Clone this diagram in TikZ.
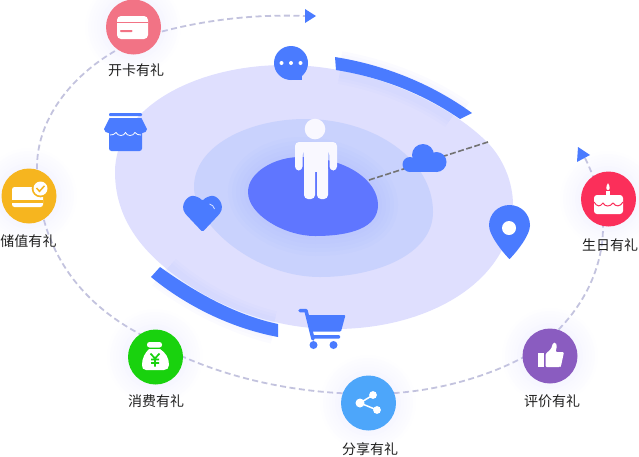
\documentclass[tikz,border=0pt]{standalone}
\usepackage{fontspec}
\setmainfont{Noto Sans CJK SC}
\definecolor{iconblue}{HTML}{4A7BFF}
\definecolor{outerblob}{HTML}{DFDFFE}
\definecolor{midblob}{HTML}{C9D2FD}
\definecolor{innerblob}{HTML}{5F76FF}
\definecolor{orbit}{HTML}{C3C3DE}
\definecolor{cpink}{HTML}{F27385}
\definecolor{cyellow}{HTML}{F6B51F}
\definecolor{cred}{HTML}{FB2F5A}
\definecolor{cpurple}{HTML}{8A5CC0}
\definecolor{csky}{HTML}{4DA6FA}
\definecolor{cgreen}{HTML}{19D20E}
\definecolor{halo}{HTML}{DCDCFF}
\definecolor{person}{HTML}{F9F8FF}
\tikzset{
  x=1pt,y=-1pt,
  badge/.style={circle,minimum size=55pt,inner sep=0pt,fill=#1},
  captext/.style={inner sep=0pt,text=black!88,font=\fontsize{14pt}{16pt}\selectfont},
  orbitline/.style={draw=orbit,line width=1.8pt,dash pattern=on 6pt off 3.5pt},
}
\newcommand{\haloat}[2]{%
  \foreach \rr in {30,33,36,39,42,45,48}{\fill[halo,opacity=.04] (#1,#2) circle[radius=\rr];}}
\newcommand{\outerpath}{(115,172) .. controls (115,108) and (195,65) .. (285,65) .. controls (370,65) and (450,105) .. (487,142) .. controls (503,158) and (513,182) .. (513,205) .. controls (513,280) and (430,329) .. (335,329) .. controls (285,329) and (240,315) .. (200,292) .. controls (150,262) and (115,225) .. (115,172) -- cycle}
\newcommand{\midpath}{(194,187) .. controls (194,145) and (250,119) .. (305,119) .. controls (375,119) and (433,160) .. (433,212) .. controls (433,255) and (375,277) .. (320,277) .. controls (255,277) and (194,225) .. (194,187) -- cycle}
\newcommand{\innerpath}{(248,192) .. controls (248,172) and (275,157) .. (300,157) .. controls (345,157) and (378,180) .. (378,205) .. controls (378,228) and (350,236) .. (315,236) .. controls (285,236) and (248,215) .. (248,192) -- cycle}
\begin{document}
\begin{tikzpicture}
\useasboundingbox (0,0) rectangle (639,456);
% arc glows
\foreach \w in {26,20,14}{
 \draw[halo,opacity=.1,line width=\w pt] (340,64) .. controls (385,72) and (430,90) .. (462,113);
 \draw[halo,opacity=.1,line width=\w pt] (160,275) .. controls (190,298) and (230,320) .. (274,331);
}
% blobs
\fill[outerblob] \outerpath;
\foreach \w in {24,18,12}{
 \draw[iconblue,opacity=.02,line width=\w pt] (340,72) .. controls (385,80) and (425,98) .. (452,117);
 \draw[iconblue,opacity=.02,line width=\w pt] (168,268) .. controls (195,292) and (235,314) .. (274,323);
}
\fill[midblob] \midpath;
\foreach \w in {40,32,24,16,8}{
 \draw[innerblob,opacity=.02,line width=\w pt] \innerpath;
}
\fill[innerblob] \innerpath;
% dashed spoke
\coordinate (spokeA) at (369,180);
\coordinate (spokeB) at (488,142);
\draw[black!55,line width=1.6pt,dash pattern=on 6pt off 2.5pt] (spokeA) -- (spokeB);
% thick arcs
\fill[iconblue] (335,57) .. controls (385,65) and (432,84) .. (472,113) -- (460,119) .. controls (425,95) and (385,78) .. (336,70) -- cycle;
\fill[iconblue] (151,277) .. controls (185,305) and (230,328) .. (278,337) -- (278,324) .. controls (235,315) and (195,292) .. (160,267) -- cycle;
% orbit
\coordinate (orbitEnd) at (305,16);
\coordinate (orbitStart) at (585,158);
\draw[orbitline] (orbitStart) .. controls (596,180) and (603,205) .. (603,227) .. controls (603,280) and (570,330) .. (522,358) .. controls (480,380) and (425,394) .. (370,394) .. controls (290,394) and (205,375) .. (138,333) .. controls (68,295) and (37,235) .. (37,167) .. controls (37,105) and (95,50) .. (160,32) .. controls (205,20) and (255,14) .. (orbitEnd);
\fill[iconblue] (305,9) -- (316,16) -- (305,23) -- cycle;
\fill[iconblue] (578,147) -- (590,155) -- (577,162) -- cycle;
% halos
\haloat{133}{27}\haloat{29}{196}\haloat{608}{199}\haloat{550}{356}\haloat{368}{403}\haloat{155}{357}
% badges
\node[badge=cpink] (card) at (133.5,27) {};
\node[badge=cyellow] (store) at (29,196) {};
\node[badge=cred] (birth) at (608.5,199) {};
\node[badge=cpurple] (rate) at (550,356) {};
\node[badge=csky] (share) at (368.5,403) {};
\node[badge=cgreen] (spend) at (155.5,357) {};
% captions
\node[captext] (capcard) at (136,70) {开卡有礼};
\node[captext] (capstore) at (28.5,241.5) {储值有礼};
\node[captext] (capbirth) at (610,245) {生日有礼};
\node[captext] (caprate) at (552,401.5) {评价有礼};
\node[captext] (capshare) at (370,449) {分享有礼};
\node[captext] (capspend) at (156,401.5) {消费有礼};
% card icon
\fill[white,rounded corners=4pt] (117,16) rectangle (148,39);
\fill[cpink] (117,21.5) rectangle (148,23);
\fill[cpink,rounded corners=.8pt] (120,30) rectangle (132.5,32);
% stored value icon
\fill[white,rounded corners=2.5pt] (12,187) rectangle (43,207);
\fill[cyellow] (12,200) rectangle (43,203);
\fill[cyellow] (40.5,188.5) circle[radius=8.8];
\fill[white] (40.5,188.5) circle[radius=7];
\draw[cyellow,line width=1.5pt] (36.5,188) -- (39.5,191.3) -- (44.5,185.8);
% cake icon
\fill[white] (608,183) .. controls (610.5,187) and (610,190) .. (608,190) .. controls (606,190) and (605.5,187) .. (608,183) -- cycle;
\fill[white] (606,191) rectangle (610,196);
\fill[white,rounded corners=3pt] (594,195) rectangle (623,214);
\draw[cred,line width=1pt] (594,202) .. controls (597,207) and (600,207) .. (603,203) .. controls (605,207) and (610,207) .. (613,203) .. controls (616,207) and (620,207) .. (623,202);
% thumb icon
\fill[white] (538,353) rectangle (543.5,367);
\fill[white,rounded corners=1.2pt] (545.5,354) -- (551,349) -- (553,343) .. controls (556,342) and (557,345) .. (556.5,348) -- (555.5,352) -- (564,352) -- (561,366) -- (560,367) -- (545.5,367) -- cycle;
% share icon
\draw[white,line width=1.5pt] (373,395) -- (360,403) -- (377,410);
\fill[white] (373,395) circle[radius=3.9] (360,403) circle[radius=4.5] (377,410) circle[radius=3.9];
% money bag icon
\fill[white,rounded corners=2.5pt] (147,342) rectangle (162,347.5);
\fill[white] (149,349) -- (160,349) .. controls (166,353) and (169,358) .. (169,365) .. controls (169,368) and (167,370) .. (164,370) -- (146,370) .. controls (143,370) and (142,368) .. (142,365) .. controls (142,358) and (145,353) .. (149,349) -- cycle;
\draw[cgreen,line width=1.7pt] (150.5,353.5) -- (155,358.5) -- (159.5,353.5) (155,358.5) -- (155,366.5) (151,359.5) -- (159,359.5) (151,362.9) -- (159,362.9);
% chat icon
\fill[iconblue] (291,63) circle[radius=17];
\fill[iconblue] (291,74) rectangle (302,80);
\fill[white] (281.5,63) circle[radius=2] (291,63) circle[radius=2] (300.5,63) circle[radius=2];
% store icon
\fill[iconblue,rounded corners=1pt] (109,113) rectangle (142,116);
\fill[iconblue,rounded corners=2.5pt] (109,130) rectangle (142,151);
\fill[iconblue] (109.5,118) -- (141.5,118) -- (147,129) .. controls (147,134) and (138,134.5) .. (135,130) .. controls (134,135) and (127,135) .. (125.5,130) .. controls (124,135) and (117,135) .. (116,130) .. controls (113,134.5) and (104,134) .. (104,129) -- cycle;
\draw[white,line width=.8pt] (110,135) .. controls (112,135.5) and (115,134) .. (116,132.5) .. controls (118,136.5) and (124,136.5) .. (125.5,132.5) .. controls (127,136.5) and (133,136.5) .. (135,132.5) .. controls (136,134) and (139,135.5) .. (141,135);
% heart icon
\fill[iconblue,rounded corners=1.5pt] (202.5,232) -- (186,214.5) .. controls (179,205) and (188,194) .. (196,196.5) .. controls (199,197.5) and (201,199) .. (202.5,201) .. controls (204,199) and (206,197.5) .. (209,196.5) .. controls (217,194) and (226,205) .. (219,214.5) -- cycle;
\draw[white,opacity=.8,line width=.8pt] (209.5,204) .. controls (212,204.5) and (214,206.5) .. (214.5,209);
% person
\fill[person] (315,129) circle[radius=10.3];
\fill[person,rounded corners=4pt] (295,170.5) -- (295,142) -- (337,142) -- (337,170.5) -- (329.5,170.5) -- (329.5,151) -- (302.5,151) -- (302.5,170.5) -- cycle;
\fill[person] (304,144) rectangle (328,172);
\fill[person,rounded corners=4pt] (304,165) rectangle (315,199);
\fill[person,rounded corners=4pt] (317,165) rectangle (328,199);
\fill[person] (304,165) rectangle (328,170);
% cloud
\fill[iconblue] (423,155) circle[radius=11];
\fill[iconblue] (436.5,162) circle[radius=10];
\fill[iconblue] (410,164.5) circle[radius=7.5];
\fill[iconblue] (410,160) rectangle (437,172);
% pin
\fill[iconblue] (509.5,259) .. controls (505,255) and (489,236) .. (489,225.5) .. controls (489,214) and (498,205) .. (509.5,205) .. controls (521,205) and (530,214) .. (530,225.5) .. controls (530,236) and (514,255) .. (509.5,259) -- cycle;
\fill[white] (509,228) circle[radius=7];
% cart
\draw[iconblue,line width=3.5pt,line cap=round,line join=round] (300,310.5) -- (306,310.5) -- (313,339);
\fill[iconblue,rounded corners=1pt] (308,315) -- (345.5,315) -- (341,331.5) -- (312,331.5) -- cycle;
\fill[iconblue,rounded corners=1pt] (312,335) rectangle (340,338.5);
\fill[iconblue] (313.5,345) circle[radius=4] (333.5,345) circle[radius=4];
\end{tikzpicture}
\end{document}
